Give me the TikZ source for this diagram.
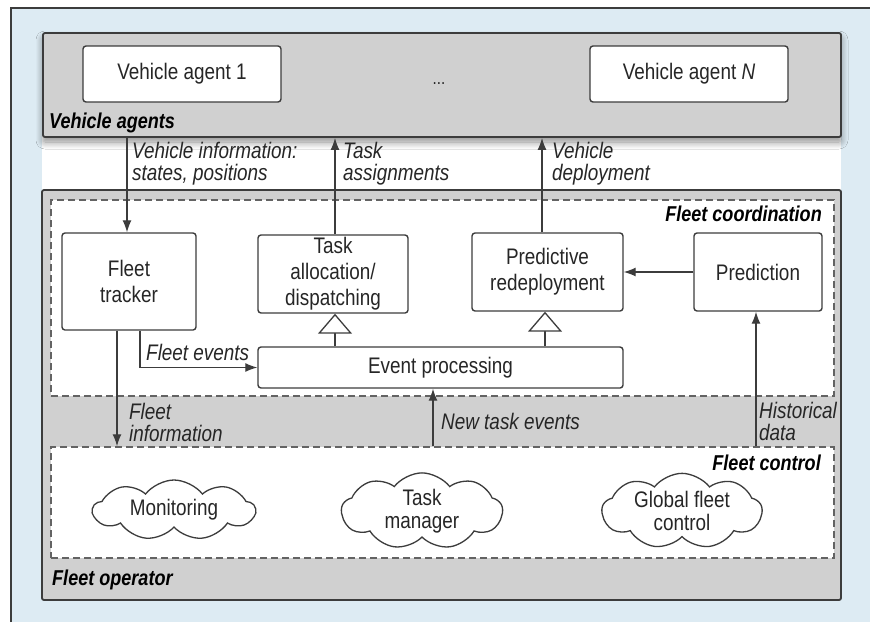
\documentclass[tikz,border=0pt]{standalone}
\usepackage{fontspec}
\setmainfont{Liberation Sans}[FakeStretch=0.84]
\usetikzlibrary{arrows.meta,shapes.symbols,shadows.blur}
\definecolor{bgblue}{HTML}{DDEBF3}
\definecolor{grpgray}{HTML}{D0D0D0}
\definecolor{edge}{HTML}{3C3C3C}
\tikzset{
  txt/.style={font=\fontsize{22.5}{26}\selectfont, text=black!85},
  group/.style={draw=edge, line width=1.8pt, fill=grpgray, rounded corners=2pt},
  dgroup/.style={draw=edge!80, line width=1.5pt, dash pattern=on 7pt off 4pt, fill=white},
  box/.style={draw=edge, line width=1.4pt, fill=white, rounded corners=3pt, align=center, txt, inner sep=2pt},
  cloudbox/.style={cloud, cloud puffs=9, cloud puff arc=105, cloud ignores aspect, draw=edge, line width=1.3pt, fill=white, align=center, font=\fontsize{22.5}{23}\selectfont, text=black!85, inner sep=0pt},
  grplabel/.style={font=\fontsize{21.5}{24}\selectfont\bfseries\itshape, inner sep=0pt},
  lbl/.style={font=\fontsize{22.5}{22}\selectfont\itshape, text=black!85, align=left, inner sep=0pt, anchor=west},
  arr/.style={draw=edge, line width=1.3pt, -{Latex[length=12pt,width=9pt]}},
  inh/.style={draw=edge, line width=1.3pt, -{Triangle[open,length=20pt,width=34pt,fill=white]}},
}
\begin{document}
\begin{tikzpicture}[x=1pt,y=-1pt]
\useasboundingbox (0,0) rectangle (870,622);
% background panel
\fill[bgblue] (11,8) rectangle (870,622);
\draw[edge, line width=1.5pt] (11,622) -- (11,8) -- (870,8);
\fill[white] (42,100) rectangle (841,200);

% vehicle agents
\node[group, minimum width=798, minimum height=104, blur shadow={shadow xshift=0pt, shadow yshift=-5pt, shadow blur radius=7pt, shadow blur steps=10, shadow opacity=45}] (va) at (442,85) {};
\node[box, minimum width=198, minimum height=56] (va1) at (182,74) {Vehicle agent 1};
\node[box, minimum width=198, minimum height=56] (vaN) at (689,74) {Vehicle agent \textit{N}};
\node[txt, font=\fontsize{18}{20}\selectfont] (dots) at (439,84) {...};
\node[grplabel, anchor=west] (valbl) at (49,123) {Vehicle agents};

% fleet operator
\node[group, minimum width=799, minimum height=410] (fo) at (441.5,395) {};
\node[dgroup, minimum width=783, minimum height=196] (fc) at (442.5,298) {};
\node[dgroup, minimum width=783, minimum height=111] (fctl) at (442.5,502.5) {};
\node[grplabel, anchor=east] (fclbl) at (822,214) {Fleet coordination};
\node[grplabel, anchor=east] (fctllbl) at (821,463) {Fleet control};
\node[grplabel, anchor=west] (folbl) at (52,580) {Fleet operator};

% inner boxes
\node[box, minimum width=134, minimum height=97] (tracker) at (129,281.5) {Fleet\\tracker};
\node[box, minimum width=150, minimum height=78] (alloc) at (333,274) {Task\\allocation/\\dispatching};
\node[box, minimum width=151, minimum height=78] (redep) at (547.5,272) {Predictive\\redeployment};
\node[box, minimum width=128, minimum height=78] (pred) at (758,272) {Prediction};
\node[box, minimum width=365, minimum height=41] (event) at (440.5,367.5) {Event processing};

% clouds
\node[cloudbox, minimum width=162, minimum height=60] (mon) at (174,510) {Monitoring};
\node[cloudbox, minimum width=161, minimum height=60] (tm) at (422,511) {Task\\manager};
\node[cloudbox, minimum width=160, minimum height=60] (gfc) at (682,511) {Global fleet\\control};

% x positions of connectors
\coordinate (xvi) at (127,0);
\coordinate (xta) at (335,0);
\coordinate (xvd) at (542,0);
\coordinate (xfe) at (140,0);
\coordinate (xfi) at (117,0);
\coordinate (xnt) at (433,0);
\coordinate (xhd) at (756,0);
\coordinate (xt1) at (335,0);
\coordinate (xt2) at (545,0);

% connectors
\draw[arr] (va.south -| xvi) -- (tracker.north -| xvi);
\draw[arr] (alloc.north -| xta) -- (va.south -| xta);
\draw[arr] (redep.north -| xvd) -- (va.south -| xvd);
\draw[arr] (pred.west) -- (redep.east);
\draw[arr] (tracker.south -| xfe) -- (xfe |- event.west) -- (event.west);
\draw[arr] (tracker.south -| xfi) -- (fctl.north -| xfi);
\draw[arr] (fctl.north -| xnt) -- (event.south -| xnt);
\draw[arr] (fctl.north -| xhd) -- (pred.south -| xhd);
\draw[inh] (event.north -| xt1) -- (alloc.south -| xt1);
\draw[inh] (event.north -| xt2) -- (redep.south -| xt2);

% connector labels
\node[lbl] (l1) at (132,164) {Vehicle information:\\states, positions};
\node[lbl] (l2) at (343,164) {Task\\assignments};
\node[lbl] (l3) at (552,164) {Vehicle\\deployment};
\node[lbl] (l4) at (146,352) {Fleet events};
\node[lbl] (l5) at (129,422) {Fleet\\information};
\node[lbl] (l6) at (441,421) {New task events};
\node[lbl] (l7) at (759,421) {Historical\\data};
\end{tikzpicture}
\end{document}
